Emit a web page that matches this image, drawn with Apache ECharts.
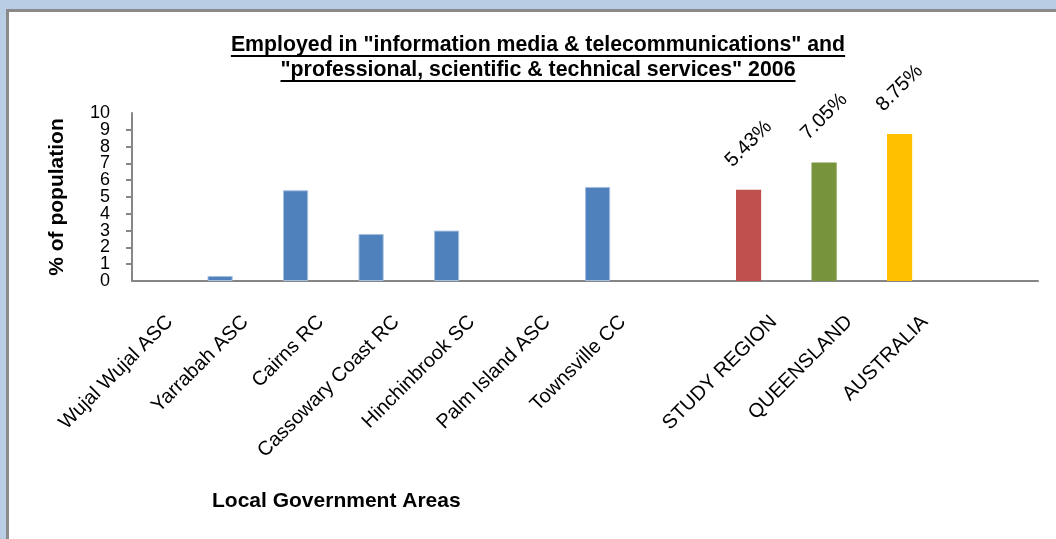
<!DOCTYPE html>
<html>
<head>
<meta charset="utf-8">
<script src="https://cdn.jsdelivr.net/npm/echarts@6/dist/echarts.min.js"></script>
<style>
  html, body { margin: 0; padding: 0; background: #fff; }
  #chart { position: absolute; left: 0; top: 0; width: 1056px; height: 539px; }
  .frame { position: absolute; pointer-events: none; }
</style>
</head>
<body>
<div id="chart"></div>
<!-- window frame round the chart -->
<div class="frame" style="left:0;top:0;width:1056px;height:9px;background:#b9cde4"></div>
<div class="frame" style="left:0;top:0;width:6px;height:539px;background:#b9cde4"></div>
<div class="frame" style="left:6px;top:9px;width:1050px;height:3px;background:#8a8a8a"></div>
<div class="frame" style="left:6px;top:9px;width:3px;height:530px;background:#8a8a8a"></div>
<script>
// categories (blank entries are the gaps in the original)
var areas = ['Wujal Wujal ASC', 'Yarrabah ASC', 'Cairns RC', 'Cassowary Coast RC', 'Hinchinbrook SC',
             'Palm Island ASC', 'Townsville CC', '', 'STUDY REGION', 'QUEENSLAND', 'AUSTRALIA', ''];
// % of population employed
var employed = [0, 0.3, 5.4, 2.8, 3.0, 0, 5.6, null, 5.43, 7.05, 8.75, null];
// which colour group each bar belongs to
var groups = ['lga', 'lga', 'lga', 'lga', 'lga', 'lga', 'lga', '', 'region', 'qld', 'aus', ''];
var yTicks = [0, 10, 1]; // min, max, interval

var groupColors = { lga: '#4f81bd', region: '#c0504d', qld: '#77933c', aus: '#ffc000' };
var titleLines = ['Employed in "information media & telecommunications" and',
                  '"professional, scientific & technical services" 2006'];
var titleFont = 'bold 21.3px "Liberation Sans", Arial, sans-serif';

var myChart = echarts.init(document.getElementById('chart'));

// measure title widths for the underline
var ctx = document.createElement('canvas').getContext('2d');
ctx.font = titleFont;
var graphics = [];
titleLines.forEach(function (t, i) {
    var cy = 45 + i * 25;
    var w = ctx.measureText(t).width;
    graphics.push({
        type: 'text', x: 538, y: cy,
        style: { text: t, font: titleFont, fill: '#000', textAlign: 'center', textVerticalAlign: 'middle' }
    });
    graphics.push({
        type: 'line',
        shape: { x1: 538 - w / 2, y1: cy + 11, x2: 538 + w / 2, y2: cy + 11 },
        style: { stroke: '#000', lineWidth: 2 }
    });
});

var barData = employed.map(function (v, i) {
    if (v === null) return '-';
    var item = { value: v, itemStyle: { color: groupColors[groups[i]] } };
    if (groups[i] === 'lga') {
        if (v > 0) {
            item.itemStyle.borderColor = '#a7bfde';
            item.itemStyle.borderWidth = 1;
        }
    } else {
        item.label = { show: true };
    }
    return item;
});
var emptyData = areas.map(function () { return '-'; });

var yLabelStyle = { fontSize: 18, color: '#000', margin: 22 };

var option = {
    animation: false,
    backgroundColor: '#fff',
    textStyle: { fontFamily: '"Liberation Sans", Arial, sans-serif' },
    grid: { left: 132, right: 18, top: 113, bottom: 258, containLabel: false },
    title: {
        text: 'Local Government Areas',
        left: 212, top: 491, padding: 0,
        textStyle: { fontSize: 21, fontWeight: 'bold', color: '#000' }
    },
    graphic: graphics,
    xAxis: {
        type: 'category',
        data: areas,
        boundaryGap: true,
        axisLine: { lineStyle: { color: '#868686', width: 2 } },
        axisTick: { show: false },
        axisLabel: { interval: 0, rotate: 45, fontSize: 20, color: '#000', margin: 38 }
    },
    yAxis: [
        {
            // main axis: line, all ticks, inner labels 1..9
            type: 'value',
            position: 'left',
            min: yTicks[0], max: yTicks[1], interval: yTicks[2],
            name: '% of population',
            nameLocation: 'middle',
            nameGap: 64,
            nameTextStyle: { fontSize: 21, fontWeight: 'bold', color: '#000' },
            axisLine: { show: true, lineStyle: { color: '#868686', width: 2 } },
            axisTick: { show: true, length: 6, lineStyle: { color: '#868686', width: 2 } },
            axisLabel: Object.assign({ showMinLabel: false, showMaxLabel: false }, yLabelStyle),
            splitLine: { show: false }
        },
        {
            // labels for the two end values only (0 and 10)
            type: 'value',
            position: 'left',
            min: yTicks[0], max: yTicks[1], interval: yTicks[1] - yTicks[0],
            axisLine: { show: false },
            axisTick: { show: false },
            axisLabel: Object.assign({ showMinLabel: true, showMaxLabel: true }, yLabelStyle),
            splitLine: { show: false }
        }
    ],
    series: [
        {
            type: 'bar',
            data: barData,
            barGap: '0%',
            barCategoryGap: '0%',
            label: {
                show: false,
                position: 'top',
                distance: 46,
                rotate: 45,
                align: 'center',
                verticalAlign: 'middle',
                fontSize: 20,
                color: '#000',
                formatter: '{c}%'
            }
        },
        { type: 'bar', data: emptyData, barGap: '0%', barCategoryGap: '0%' },
        { type: 'bar', data: emptyData, barGap: '0%', barCategoryGap: '0%' }
    ]
};

myChart.setOption(option);
</script>
</body>
</html>
